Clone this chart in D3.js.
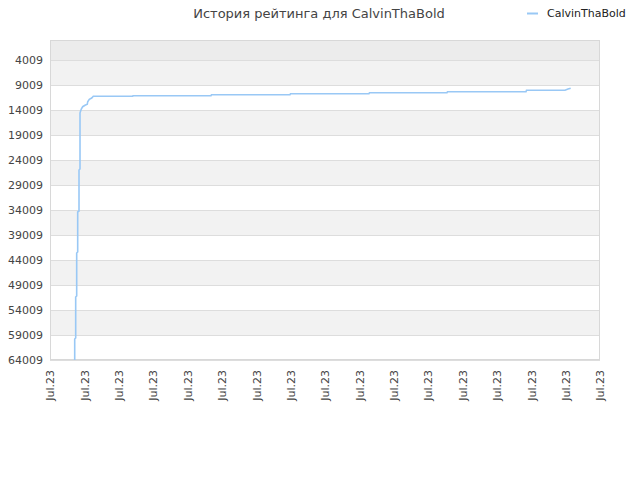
<!DOCTYPE html>
<html><head><meta charset="utf-8">
<script src="https://cdn.jsdelivr.net/npm/d3@7/dist/d3.min.js"></script>
<style>body{margin:0;background:#fff;}svg{display:block;font-family:"DejaVu Sans",sans-serif;}</style>
</head><body>
<svg id="c" width="640" height="480"></svg>
<script>
const title = "История рейтинга для CalvinThaBold";
const seriesName = "CalvinThaBold";
const yTicks = [4009, 9009, 14009, 19009, 24009, 29009, 34009, 39009, 44009, 49009, 54009, 59009, 64009];
const times = ["2023-07-01T17:15","2023-07-01T17:15","2023-07-01T17:56","2023-07-01T17:56","2023-07-01T18:38","2023-07-01T18:38","2023-07-01T19:20","2023-07-01T19:20","2023-07-01T20:15","2023-07-01T20:15","2023-07-01T20:57","2023-07-01T20:57","2023-07-01T21:09","2023-07-01T21:51","2023-07-01T22:50","2023-07-02T00:26","2023-07-02T02:02","2023-07-02T02:19","2023-07-02T03:26","2023-07-02T05:07","2023-07-02T06:14","2023-07-03T09:44","2023-07-03T09:57","2023-07-05T16:25","2023-07-05T16:46","2023-07-07T23:34","2023-07-07T23:55","2023-07-10T06:43","2023-07-10T07:04","2023-07-12T13:11","2023-07-12T13:32","2023-07-14T20:20","2023-07-14T20:41","2023-07-15T23:34","2023-07-16T01:40","2023-07-16T03:32"];
const ranks = [64009,59809,59609,51409,51209,42609,42409,34409,34209,26009,25809,14609,14409,13809,13349,13069,12869,12349,11869,11609,11269,11269,11149,11149,10949,10949,10749,10749,10549,10549,10349,10349,10069,10069,9829,9669];
const xStart = "2023-07-01", xEnd = "2023-07-17";
const yTop = 9;

const svg = d3.select("#c");
const L = 50, R = 600, T = 40, B = 360;
const parse = d3.isoParse;
const x = d3.scaleTime().domain([parse(xStart), parse(xEnd)]).range([L, R]);
const y = d3.scaleLinear().domain([yTop, yTicks[yTicks.length - 1]]).range([T, B]);

// bands
const bounds = [yTop].concat(yTicks);
for (let i = 0; i < bounds.length - 1; i++) {
  let fill = i === 0 ? "#ececec" : (i % 2 === 1 ? "#f2f2f2" : "#ffffff");
  svg.append("rect").attr("x", L).attr("y", y(bounds[i])).attr("width", R - L)
    .attr("height", y(bounds[i + 1]) - y(bounds[i])).attr("fill", fill);
}
// grid
svg.append("g").selectAll("line").data(yTicks).join("line")
  .attr("x1", L).attr("x2", R).attr("y1", d => Math.round(y(d)) + 0.5).attr("y2", d => Math.round(y(d)) + 0.5)
  .attr("stroke", "#dddddd");
// border
svg.append("rect").attr("x", L + 0.5).attr("y", T + 0.5).attr("width", R - L - 1).attr("height", B - T - 1)
  .attr("fill", "none").attr("stroke", "#d8d8d8");

// y labels
const yAxis = d3.axisLeft(y).tickValues(yTicks).tickSize(0).tickPadding(7).tickFormat(d => String(d));
const gy = svg.append("g").attr("transform", `translate(${L},0)`).call(yAxis);
gy.select(".domain").remove();
gy.selectAll("text").attr("font-size", 11).attr("fill", "#444").attr("font-family", "DejaVu Sans");

// x labels
const xAxis = d3.axisBottom(x).ticks(d3.timeDay.every(1)).tickSize(0).tickFormat(d3.timeFormat("%b.%y"));
const gx = svg.append("g").attr("transform", `translate(0,${B})`).call(xAxis);
gx.select(".domain").remove();
gx.selectAll("text").attr("font-size", 11).attr("fill", "#444").attr("font-family", "DejaVu Sans")
  .attr("text-anchor", "end").attr("transform", "rotate(-90)").attr("x", -10).attr("y", 0).attr("dy", "0.35em");

// line
const data = times.map((t, i) => ({t: parse(t), r: ranks[i]}));
svg.append("path").datum(data)
  .attr("d", d3.line().x(d => x(d.t)).y(d => y(d.r)))
  .attr("fill", "none").attr("stroke", "#99c8f5").attr("stroke-width", 1.6);

// title
svg.append("text").attr("x", 319).attr("y", 18).attr("text-anchor", "middle")
  .attr("font-size", 13).attr("fill", "#444").text(title);
// legend
svg.append("line").attr("x1", 527).attr("x2", 538).attr("y1", 13.5).attr("y2", 13.5)
  .attr("stroke", "#99c8f5").attr("stroke-width", 2);
svg.append("text").attr("x", 547).attr("y", 17).attr("font-size", 11).attr("fill", "#222").text(seriesName);
</script>
</body></html>
